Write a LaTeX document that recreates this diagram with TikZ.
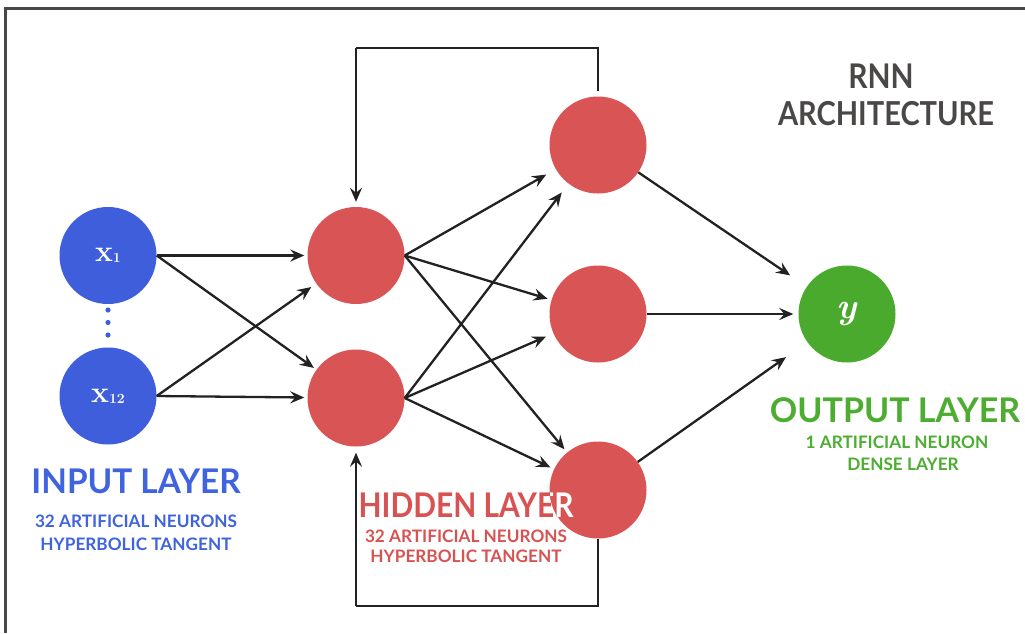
\documentclass[tikz,border=0pt]{standalone}
\usepackage{fontspec}
\newfontfamily\lato{Lato}
\usetikzlibrary{arrows.meta}
\definecolor{nblue}{HTML}{3E5EDC}
\definecolor{nred}{HTML}{D95454}
\definecolor{ngreen}{HTML}{4AAA2E}
\definecolor{tblue}{HTML}{4063DE}
\definecolor{tred}{HTML}{D95252}
\definecolor{tgreen}{HTML}{4CAD30}
\definecolor{tgray}{HTML}{4A4747}
\definecolor{ink}{HTML}{222222}
\begin{document}
\begin{tikzpicture}[x=1pt,y=-1pt,
  neuron/.style={circle,minimum size=97pt,inner sep=0pt,draw=none},
  conn/.style={line width=2.3pt,draw=ink,-{Stealth[length=14pt,width=12pt,inset=5pt]},shorten >=4pt},
  loopline/.style={line width=2.3pt,draw=ink},
  title/.style={font=\lato\bfseries\fontsize{34}{34}\selectfont,inner sep=0pt,anchor=base},
  sub/.style={font=\lato\bfseries\fontsize{17.2}{20}\selectfont,inner sep=0pt,anchor=base},
  xlabel/.style={text=white,font=\fontsize{30}{30}\selectfont\bfseries},
]
\useasboundingbox (0,0) rectangle (1025,633);
\fill[white] (0,0) rectangle (1025,633);
\draw[line width=3pt,draw=black!72] (5,633) -- (5,8.5) -- (1025,8.5);

% neurons
\node[neuron,fill=nblue] (x1) at (108,255.5) {};
\node[neuron,fill=nblue] (x12) at (108,396) {};
\node[neuron,fill=nred] (h1) at (356,255.5) {};
\node[neuron,fill=nred] (h2) at (356,398) {};
\node[neuron,fill=nred] (o1) at (598,145) {};
\node[neuron,fill=nred] (o2) at (598,314) {};
\node[neuron,fill=nred] (o3) at (598,490) {};
\node[neuron,fill=ngreen] (y) at (847,314) {};

% labels inside
\node[xlabel] (lx1) at (x1) {x\raisebox{-1pt}{\fontsize{14}{14}\selectfont 1}};
\node[xlabel] (lx12) at (x12) {x\raisebox{-1pt}{\fontsize{14}{14}\selectfont 12}};
\node[xlabel,font=\fontsize{36}{36}\selectfont\bfseries\itshape] (ly) at (y) {y};

% dots
\fill[nblue] (108,310) circle (2.6) (108,322.5) circle (2.6) (108,335) circle (2.6);

% input -> hidden
\draw[conn,shorten >=3pt] (x1.east) -- (h1);
\draw[conn,shorten >=3pt] (x1.east) -- (h2);
\draw[conn,shorten >=6pt] (x12.east) -- (h1);
\draw[conn,shorten >=3pt] (x12.east) -- (h2);

% hidden -> second hidden
\draw[conn,shorten >=11pt] (h1.east) -- (o1);
\draw[conn,shorten >=4pt] (h1.east) -- (o2);
\draw[conn,shorten >=4pt] (h1.east) -- (o3);
\draw[conn,shorten >=11pt] (h2.east) -- (o1);
\draw[conn,shorten >=8pt] (h2.east) -- (o2);
\draw[conn,shorten >=4pt] (h2.east) -- (o3);

% -> output
\draw[conn,shorten >=20pt] (o1) -- (y);
\draw[conn,shorten >=5pt] (o2.east) -- (y);
\draw[conn,shorten >=26pt] (o3) -- (y);

% recurrent loops
\coordinate (tr) at (598,48);
\coordinate (tl) at (356,48);
\coordinate (br) at (598,606);
\coordinate (bl) at (356,606);
\draw[loopline] ([yshift=5pt]o1.north) -- (tr) -- (tl);
\draw[conn,shorten >=5pt] (tl) -- (h1.north);
\draw[loopline] (o3.south) -- (br) -- (bl);
\draw[conn,shorten >=6pt] (bl) -- (h2.south);

% texts
\node[title,text=tgray] (rnn) at (881,88) {\scalebox{0.88}[1]{RNN}};
\node[title,text=tgray,font=\lato\bfseries\fontsize{33}{33}\selectfont] (arch) at (886,125) {\scalebox{0.88}[1]{ARCHITECTURE}};

\node[title,text=tblue] (inl) at (136,493) {\scalebox{0.98}[1]{INPUT LAYER}};
\node[sub,text=tblue] (in1) at (136,527) {32 ARTIFICIAL NEURONS};
\node[sub,text=tblue] (in2) at (136,550) {HYPERBOLIC TANGENT};

\node[title,text=tred] (hil) at (466,517) {\scalebox{0.88}[1]{HIDDEN LAYER}};
\begin{scope}
  \clip (o3) circle (48.5);
  \node[title,text=white] (hilw) at (466,517) {\scalebox{0.88}[1]{HIDDEN LAYER}};
\end{scope}
\node[sub,text=tred] (hi1) at (466,542) {32 ARTIFICIAL NEURONS};
\node[sub,text=tred] (hi2) at (466,562) {HYPERBOLIC TANGENT};

\node[title,text=tgreen] (outl) at (895,422) {OUTPUT LAYER};
\node[sub,text=tgreen] (out1) at (897,448) {1 ARTIFICIAL NEURON};
\node[sub,text=tgreen] (out2) at (903,470) {DENSE LAYER};
\end{tikzpicture}
\end{document}
